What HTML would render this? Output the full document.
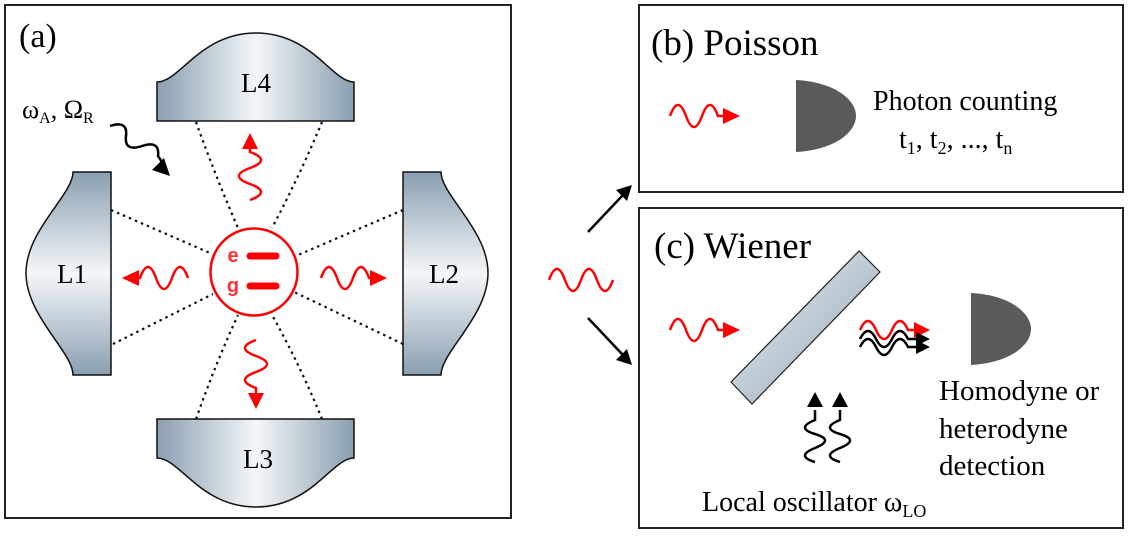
<!DOCTYPE html>
<html><head><meta charset="utf-8"><style>html,body{margin:0;padding:0;background:#fff}svg{display:block}text{font-family:"Liberation Serif",serif;fill:#000}</style></head><body>
<svg width="1128" height="536" viewBox="0 0 1128 536" xmlns="http://www.w3.org/2000/svg">
<defs>
<linearGradient id="gh" x1="0" y1="0" x2="1" y2="0"><stop offset="0" stop-color="#8a9fb0"/><stop offset="0.5" stop-color="#f4f7f9"/><stop offset="1" stop-color="#8a9fb0"/></linearGradient>
<linearGradient id="gv" x1="0" y1="0" x2="0" y2="1"><stop offset="0" stop-color="#8a9fb0"/><stop offset="0.5" stop-color="#f4f7f9"/><stop offset="1" stop-color="#8a9fb0"/></linearGradient>
<linearGradient id="gb" x1="0" y1="0" x2="1" y2="1"><stop offset="0" stop-color="#eef2f5"/><stop offset="1" stop-color="#8ea3b3"/></linearGradient>
</defs>
<g fill="none" stroke="#222" stroke-width="2">
<rect x="5" y="5" width="506" height="513"/>
<rect x="639" y="5" width="484" height="187"/>
<rect x="639" y="208" width="484" height="320"/>
</g>
<g stroke="#111" stroke-width="1.5">
<path d="M157,121 L157,82 C180,82 200,33 256,33 C312,33 332,82 354,82 L354,121 Z" fill="url(#gh)"/>
<path d="M157,419 L157,458 C180,458 200,507 256,507 C312,507 332,458 354,458 L354,419 Z" fill="url(#gh)"/>
<path d="M111,172 L73,172 C73,195 26,230 26,273 C26,316 73,352 73,375 L111,375 Z" fill="url(#gv)"/>
<path d="M403,172 L441,172 C441,195 488,230 488,273 C488,316 441,352 441,375 L403,375 Z" fill="url(#gv)"/>
</g>
<g font-size="27" text-anchor="middle">
<text x="256" y="92">L4</text><text x="258" y="468">L3</text>
<text x="72" y="283">L1</text><text x="444" y="283">L2</text>
</g>
<text x="19" y="47" font-size="34">(a)</text>
<text x="22" y="118" font-size="26">ω<tspan font-size="16" dy="5">A</tspan><tspan dy="-5">, Ω</tspan><tspan font-size="16" dy="5">R</tspan></text>
<g stroke="#111" stroke-width="2.2" stroke-dasharray="2.5,4" fill="none">
<path d="M196,122 Q215,175 238,228"/><path d="M322,122 Q300,175 272,228"/>
<path d="M196,419 Q215,365 238,315"/><path d="M322,419 Q300,365 272,315"/>
<path d="M111,210 L210,253"/><path d="M113,344 L213,294"/>
<path d="M403,210 L298,255"/><path d="M403,344 L294,292"/>
</g>
<circle cx="254" cy="272" r="43.5" fill="#fff" stroke="#f00" stroke-width="2.5"/>
<g stroke="#f00" stroke-width="7" stroke-linecap="round"><path d="M250,256 L276,256"/><path d="M250,286 L276,286"/></g>
<text x="233" y="262" font-size="20" font-weight="bold" text-anchor="middle" style="fill:#f33;font-family:'Liberation Sans',sans-serif">e</text>
<text x="233" y="292" font-size="20" font-weight="bold" text-anchor="middle" style="fill:#f33;font-family:'Liberation Sans',sans-serif">g</text>
<g stroke="#f00" stroke-width="2.5" fill="none">
<path d="M321,278 q8,-22 16,0 t16,0 t16,0 l5,0"/>
<path d="M188,278 q-8,-22 -16,0 t-16,0 t-16,0 l-5,0"/>
<path d="M250,200 q22,-8 0,-16 t0,-16 t0,-16 l0,-6"/>
<path d="M256,340 q-22,8 0,16 t0,16 t0,16 l0,6"/>
<path d="M549,280 q8,-22 16,0 t16,0 t16,0 t16,0"/>
<path d="M670,330 q8,-22 16,0 t16,0 t16,0 l6,0"/>
<path d="M670,116 q8,-22 16,0 t16,0 t16,0 l6,0"/>
<path d="M860,330 q8,-18 16,0 t16,0 t16,0 l10,0"/>
</g>
<g fill="#f00">
<polygon points="387,278 370,270 370,286"/>
<polygon points="122,278 139,270 139,286"/>
<polygon points="250,133 242,149 258,149"/>
<polygon points="256,409 248,393 264,393"/>
<polygon points="740,330 723,322 723,338"/>
<polygon points="740,116 723,108 723,124"/>
<polygon points="930,330 914,322 914,338"/>
</g>
<g stroke="#000" stroke-width="2.5" fill="none">
<path d="M110,126 q18,-6 16,10 t16,10 t16,10 l4,6"/>
<path d="M588,232 L622,196"/><path d="M588,318 L622,354"/>
<path d="M860,339 q8,-16 16,0 t16,0 t16,0 l10,0"/>
<path d="M860,347 q8,-16 16,0 t16,0 t16,0 l10,0"/>
<path d="M815,462 q-20,-6 0,-14 t0,-14 t0,-14 l0,-10"/>
<path d="M840,462 q-20,-6 0,-14 t0,-14 t0,-14 l0,-10"/>
</g>
<g fill="#000">
<polygon points="170,176 152,170 164,158"/>
<polygon points="632,185 616,190 627,201"/>
<polygon points="632,365 627,349 616,360"/>
<polygon points="930,339 916,332 916,346"/>
<polygon points="930,347 916,340 916,354"/>
<polygon points="815,392 807,407 823,407"/>
<polygon points="840,392 832,407 848,407"/>
</g>
<path d="M796,80 C835,82 856,100 856,116 C856,132 835,150 796,152 Z" fill="#5a5a5a"/>
<path d="M971,293 C1010,295 1031,313 1031,329 C1031,345 1010,363 971,365 Z" fill="#5a5a5a"/>
<polygon points="731,382 752,404 880,272 859,251" fill="url(#gb)" stroke="#222" stroke-width="1.2"/>
<text x="651" y="55" font-size="37">(b) Poisson</text>
<text x="873" y="110" font-size="28">Photon counting</text>
<text x="899" y="148" font-size="28">t<tspan font-size="18" dy="6">1</tspan><tspan dy="-6">, t</tspan><tspan font-size="18" dy="6">2</tspan><tspan dy="-6">, ..., t</tspan><tspan font-size="18" dy="6">n</tspan></text>
<text x="654" y="258" font-size="37">(c) Wiener</text>
<text x="939" y="400" font-size="29">Homodyne or</text>
<text x="939" y="438" font-size="29">heterodyne</text>
<text x="939" y="475" font-size="29">detection</text>
<text x="702" y="511" font-size="28">Local oscillator ω<tspan font-size="18" dy="6">LO</tspan></text>
</svg>
</body></html>
